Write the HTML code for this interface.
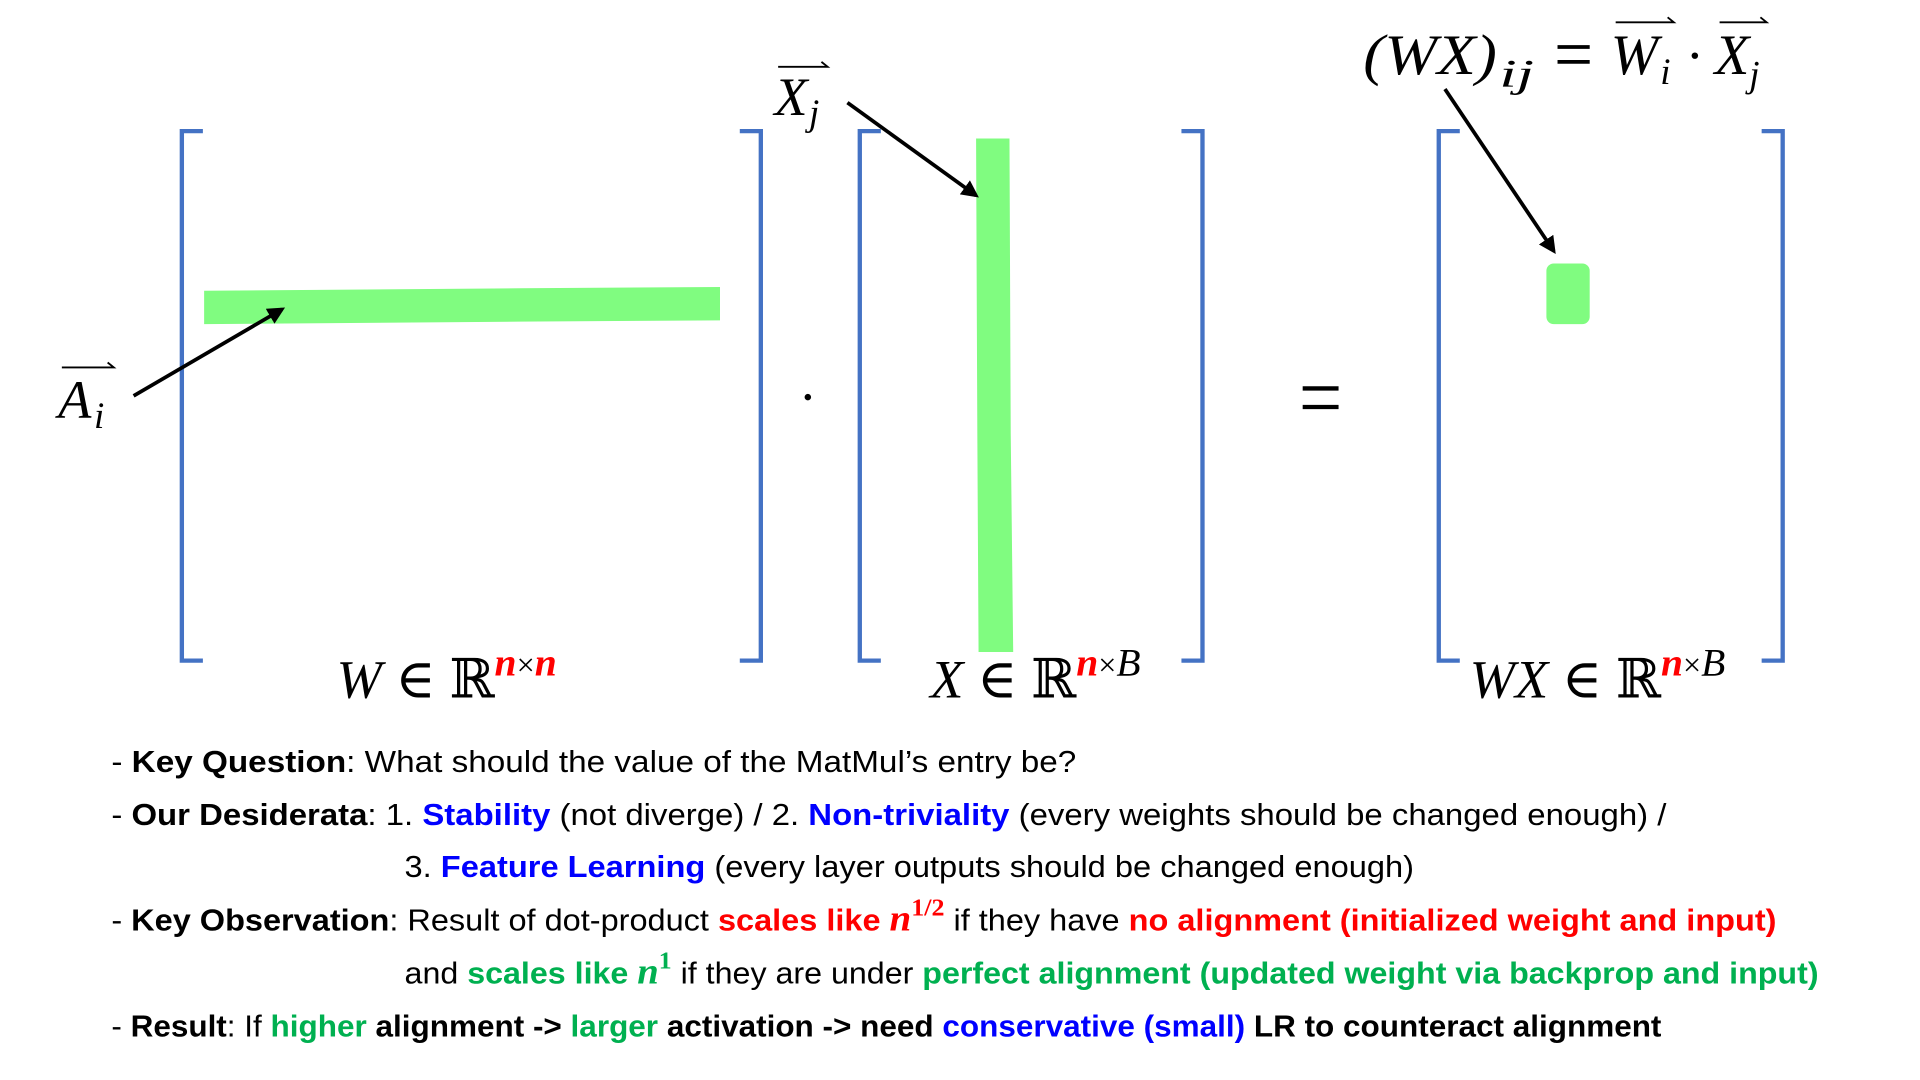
<!DOCTYPE html>
<html><head><meta charset="utf-8"><style>
html,body{margin:0;padding:0;background:#fff;}
svg{display:block;}
.m{font-family:"Liberation Serif","DejaVu Serif",serif;font-style:italic;}
.t{font-family:"Liberation Sans","DejaVu Sans",sans-serif;font-size:25px;}
.b{font-weight:bold;}
.blue{fill:#0000ff;font-weight:bold;}
.red{fill:#ff0000;font-weight:bold;}
.grn{fill:#00b050;font-weight:bold;}
</style></head><body>
<svg width="1920" height="1080" viewBox="0 0 1552 873" xmlns="http://www.w3.org/2000/svg">
<defs>
<marker id="ah2" viewBox="0 0 10 10" markerWidth="14" markerHeight="14" refX="8" refY="5" orient="auto" markerUnits="userSpaceOnUse"><path d="M0,0 L10,5 L0,10 z" fill="#000"/></marker>
</defs>

<g fill="none" stroke="#4472c4" stroke-width="3.5">
<path d="M164,106 H147 V534 H164"/>
<path d="M598,106 H615 V534 H598"/>
</g>
<path d="M165,235 L420,233 L582,232 L582,259 L420,260 L165,262 Z" fill="#80fc80"/>
<line x1="108" y1="320" x2="228" y2="250" stroke="#000" stroke-width="3" marker-end="url(#ah2)"/>
<g>
<path d="M50,297 H92 L87,293" fill="none" stroke="#000" stroke-width="1.5"/>
<text class="m" x="47" y="338" font-size="44">A</text><text class="m" x="76" y="346" font-size="30">i</text>
</g>
<circle cx="653" cy="321" r="2.6" fill="#000"/>

<g fill="none" stroke="#4472c4" stroke-width="3.5">
<path d="M712,106 H695 V534 H712"/>
<path d="M955,106 H972 V534 H955"/>
</g>
<path d="M789,112 L816,112 L817,350 L819,527 L791,527 L790,350 Z" fill="#80fc80"/>
<line x1="685" y1="83" x2="789" y2="158" stroke="#000" stroke-width="3" marker-end="url(#ah2)"/>
<g>
<path d="M629,54 H669 L664,50" fill="none" stroke="#000" stroke-width="1.5"/>
<text class="m" x="626" y="93" font-size="44">X</text><text class="m" x="654" y="101" font-size="30">j</text>
</g>
<g stroke="#000" stroke-width="3.5">
<line x1="1053" y1="314" x2="1082" y2="314"/><line x1="1053" y1="329" x2="1082" y2="329"/>
</g>

<g fill="none" stroke="#4472c4" stroke-width="3.5">
<path d="M1180,106 H1163 V534 H1180"/>
<path d="M1424,106 H1441 V534 H1424"/>
</g>
<rect x="1250" y="213" width="35" height="49" rx="6" fill="#80fc80"/>
<line x1="1168" y1="72" x2="1256" y2="203" stroke="#000" stroke-width="3" marker-end="url(#ah2)"/>
<g>
<text class="m" x="1102" y="60" font-size="46" textLength="108" lengthAdjust="spacingAndGlyphs">(WX)</text>
<text class="m" x="1212" y="70" font-size="32" textLength="28" lengthAdjust="spacingAndGlyphs">ij</text>
<g stroke="#000" stroke-width="3"><line x1="1259" y1="38" x2="1285" y2="38"/><line x1="1259" y1="50" x2="1285" y2="50"/></g>
<path d="M1306,18 H1353 L1348,14" fill="none" stroke="#000" stroke-width="1.5"/>
<text class="m" x="1302" y="60" font-size="46">W</text><text class="m" x="1342" y="68" font-size="30">i</text>
<circle cx="1370" cy="45" r="2.6" fill="#000"/>
<path d="M1390,18 H1428 L1423,14" fill="none" stroke="#000" stroke-width="1.5"/>
<text class="m" x="1386" y="60" font-size="46">X</text><text class="m" x="1414" y="70" font-size="30">j</text>
</g>

<text class="m" x="272" y="564" font-size="44">W <tspan font-style="normal">∈ ℝ</tspan><tspan dy="-18" font-size="32" fill="#ff0000" font-weight="bold">n</tspan><tspan font-size="26" font-style="normal">×</tspan><tspan font-size="32" fill="#ff0000" font-weight="bold">n</tspan></text>
<text class="m" x="752" y="564" font-size="44">X <tspan font-style="normal">∈ ℝ</tspan><tspan dy="-18" font-size="32" fill="#ff0000" font-weight="bold">n</tspan><tspan font-size="26" font-style="normal">×</tspan><tspan font-size="32">B</tspan></text>
<text class="m" x="1188" y="564" font-size="44">WX <tspan font-style="normal">∈ ℝ</tspan><tspan dy="-18" font-size="32" fill="#ff0000" font-weight="bold">n</tspan><tspan font-size="26" font-style="normal">×</tspan><tspan font-size="32">B</tspan></text>

<g>
<text class="t" x="90" y="624" textLength="780" lengthAdjust="spacingAndGlyphs">- <tspan class="b">Key Question</tspan>: What should the value of the MatMul’s entry be?</text>
<text class="t" x="90" y="667" textLength="1257" lengthAdjust="spacingAndGlyphs">- <tspan class="b">Our Desiderata</tspan>: 1. <tspan class="blue">Stability</tspan> (not diverge) / 2. <tspan class="blue">Non-triviality</tspan> (every weights should be changed enough) /</text>
<text class="t" x="327" y="709" textLength="816" lengthAdjust="spacingAndGlyphs">3. <tspan class="blue">Feature Learning</tspan> (every layer outputs should be changed enough)</text>
<text class="t" x="90" y="752" textLength="1346" lengthAdjust="spacingAndGlyphs">- <tspan class="b">Key Observation</tspan>: Result of dot-product <tspan class="red">scales like </tspan><tspan class="red" font-family="Liberation Serif" font-style="italic" font-size="30">n</tspan><tspan class="red" font-family="Liberation Serif" font-size="20" dy="-12">1/2</tspan><tspan dy="12"> if they have </tspan><tspan class="red">no alignment (initialized weight and input)</tspan></text>
<text class="t" x="327" y="795" textLength="1143" lengthAdjust="spacingAndGlyphs">and <tspan class="grn">scales like </tspan><tspan class="grn" font-family="Liberation Serif" font-style="italic" font-size="30">n</tspan><tspan class="grn" font-family="Liberation Serif" font-size="20" dy="-12">1</tspan><tspan dy="12"> if they are under </tspan><tspan class="grn">perfect alignment (updated weight via backprop and input)</tspan></text>
<text class="t" x="90" y="838" textLength="1253" lengthAdjust="spacingAndGlyphs">- <tspan class="b">Result</tspan>: If <tspan class="grn">higher</tspan><tspan class="b"> alignment -&gt; </tspan><tspan class="grn">larger</tspan><tspan class="b"> activation -&gt; need </tspan><tspan class="blue">conservative (small)</tspan><tspan class="b"> LR to counteract alignment</tspan></text>
</g>
</svg>
</body></html>
